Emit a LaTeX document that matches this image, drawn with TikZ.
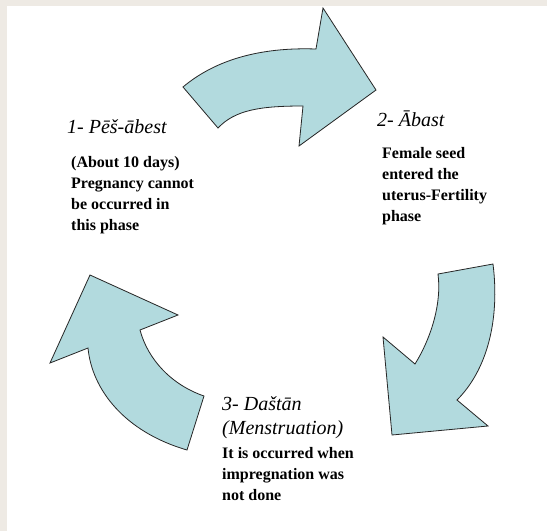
\documentclass[tikz,border=0pt]{standalone}
\usepackage{fontspec}
\setmainfont{Liberation Serif}
\usepackage{tikz}

\definecolor{arrowblue}{RGB}{178,218,222}
\definecolor{paper}{RGB}{238,234,228}

\tikzset{
	cyclearrow/.style={fill=arrowblue, draw=black!85, line width=0.8pt, line join=miter},
	heading/.style={inner sep=0pt, anchor=base west, align=left, font=\fontsize{20}{24}\selectfont\itshape},
	bodytext/.style={inner sep=0pt, anchor=base west, align=left, font=\fontsize{16}{21}\selectfont\bfseries}
}

\begin{document}
\begin{tikzpicture}[x=1pt, y=-1pt]
				% Page and margins
				\useasboundingbox (0,0) rectangle (547,531);
				\fill[paper] (0,0) rectangle (547,531);
				\fill[white] (7,6) rectangle (547,531);
				
				% Top arrow (phase 1 to phase 2)
				\draw[cyclearrow] (183,87) -- (218,128) .. controls (235,110) and (260,106) .. (303,106)
					-- (299,146) -- (376,90) -- (323,8) -- (316,49)
					.. controls (260,47) and (215,60) .. (183,87) -- cycle;
				
				% Right arrow (phase 2 to phase 3)
				\draw[cyclearrow] (438,274) -- (493,264) .. controls (500,320) and (487,370) .. (457,400)
					-- (488,426) -- (392,435) -- (383,337) -- (415,364)
					.. controls (430,340) and (442,305) .. (438,274) -- cycle;
				
				% Left arrow (phase 3 to phase 1)
				\draw[cyclearrow] (90,275) -- (178,315) -- (140,330) .. controls (148,360) and (172,385) .. (204,396)
					-- (187,450) .. controls (125,432) and (92,390) .. (88,348)
					-- (50,363) -- cycle;
				
				% Phase labels (base anchor sits on the last line)
				\node (head1) [heading] at (67,133) {1- Pēš-ābest};
				\node (body1) [bodytext] at (71,230) {(About 10 days)\\Pregnancy cannot\\be occurred in\\this phase};
				
				\node (head2) [heading] at (377,126) {2- Ābast};
				\node (body2) [bodytext] at (382,221) {Female seed\\entered the\\uterus-Fertility\\phase};
				
				\node (head3) [heading] at (222,434) {3- Daštān\\(Menstruation)};
				\node (body3) [bodytext] at (222,500) {It is occurred when\\impregnation was\\not done};
			\end{tikzpicture}
\end{document}
